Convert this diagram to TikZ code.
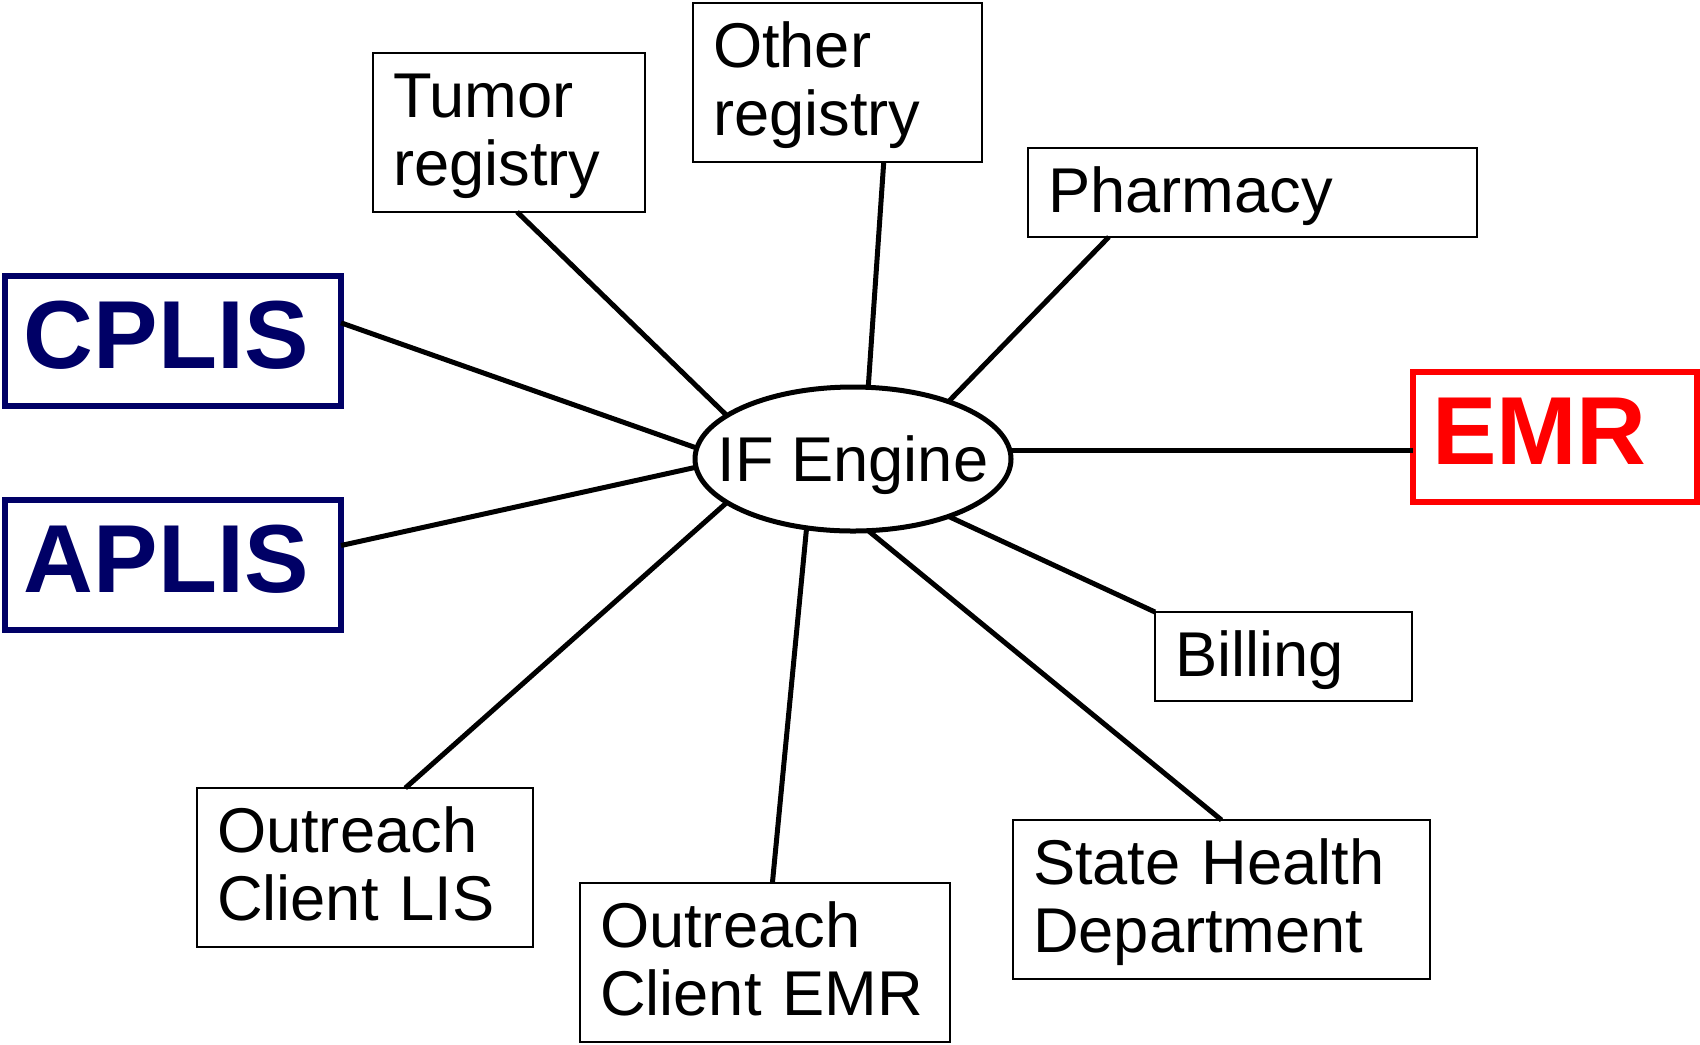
\documentclass[tikz,border=0pt]{standalone}
\usepackage{fontspec}
\setmainfont{Liberation Sans}
\usetikzlibrary{calc,shapes.geometric}
\definecolor{lisnavy}{RGB}{0,0,102}
\definecolor{emrred}{RGB}{255,0,0}
\begin{document}
\begin{tikzpicture}[
  sysbox/.style={draw=black, line width=0.025cm, anchor=north west, align=left,
    inner xsep=0.2cm, inner ysep=0pt, outer sep=0pt, text height=0.64cm,
    font=\fontsize{18}{19.4}\selectfont},
  twoline/.style={text depth=0.95cm},
  oneline/.style={text depth=0.25cm},
  lisbox/.style={draw=#1, text=#1, line width=0.06cm, anchor=north west, align=left,
    inner xsep=0.19cm, inner ysep=0pt, outer sep=0pt, text height=0.92cm, text depth=0.38cm,
    font=\fontsize{27.5}{30}\selectfont\bfseries},
  link/.style={draw=black, line width=0.05cm}
]
\useasboundingbox (0,0) rectangle (17,-10.44);
\node [draw, ellipse, line width=0.05cm, minimum width=3.16cm, minimum height=1.44cm,
  inner sep=0pt, outer sep=0pt, text height=0.45cm, text depth=0cm,
  font=\fontsize{18}{19.4}\selectfont] (engine) at (8.53,-4.59) {\makebox[0pt]{IF Engine}};
\node [lisbox=lisnavy, text width=2.98cm] (cplis) at (0.05,-2.76) {CPLIS};
\node [lisbox=lisnavy, text width=2.98cm] (aplis) at (0.05,-5.00) {APLIS};
\node [lisbox=emrred, text width=2.46cm] (emr) at (14.13,-3.72) {EMR};
\node [sysbox, twoline, text width=2.32cm] (tumor) at (3.73,-0.53) {Tumor\\registry};
\node [sysbox, twoline, text width=2.49cm] (other) at (6.93,-0.03) {Other\\registry};
\node [sysbox, oneline, text width=4.09cm] (pharmacy) at (10.28,-1.48) {Pharmacy};
\node [sysbox, oneline, text width=2.17cm] (billing) at (11.55,-6.12) {Billing};
\node [sysbox, twoline, text width=3.77cm] (state) at (10.13,-8.20) {State Health\\Department};
\node [sysbox, twoline, text width=2.96cm] (olis) at (1.97,-7.88) {Outreach\\Client LIS};
\node [sysbox, twoline, text width=3.30cm] (oemr) at (5.80,-8.83) {Outreach\\Client EMR};
\draw [link] ($(tumor.south west)!0.53!(tumor.south east)$) -- (engine.161);
\draw [link] ($(other.south west)!0.66!(other.south east)$) -- (engine.78);
\draw [link] ($(pharmacy.south west)!0.18!(pharmacy.south east)$) -- (engine.31);
\draw [link] ($(cplis.north east)!0.36!(cplis.south east)$) -- (engine.176);
\draw [link] ($(aplis.north east)!0.35!(aplis.south east)$) -- (engine.183);
\draw [link] (engine.3) -- (engine.3 -| emr.west);
\draw [link] (engine.-31) -- (billing.north west);
\draw [link] (engine.-78) -- (state.north);
\draw [link] (engine.236) -- ($(oemr.north west)!0.52!(oemr.north east)$);
\draw [link] (engine.199) -- ($(olis.north west)!0.62!(olis.north east)$);
\end{tikzpicture}
\end{document}
